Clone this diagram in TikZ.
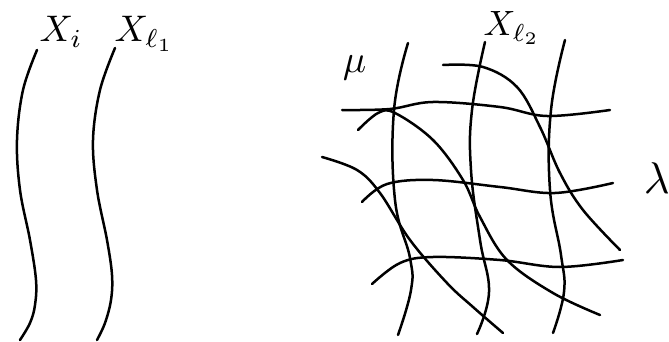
\documentclass[tikz,border=0pt]{standalone}
\begin{document}
\begin{tikzpicture}[x=1pt,y=-1pt,
  curve/.style={line width=2.5pt,line cap=round,black},
  lab/.style={inner sep=0pt,scale=3.7}]
\useasboundingbox[fill=white] (0,0) rectangle (669,342);
% left two curves
\draw[curve] plot[smooth,tension=0.6] coordinates {(37,50) (23,90) (17,140) (20,190) (30,240) (36,280) (35,305) (30,323) (20,340)};
\draw[curve] plot[smooth,tension=0.6] coordinates {(115,48) (100,90) (93,140) (97,190) (107,240) (112,275) (111,300) (105,323) (97,340)};
% vertical family
\draw[curve] plot[smooth,tension=0.7] coordinates {(408,43) (394,110) (395,200) (410,258) (411,290) (398,335)};
\draw[curve] plot[smooth,tension=0.7] coordinates {(485,42) (472,110) (471,170) (480,240) (489,292) (477,334)};
\draw[curve] plot[smooth,tension=0.7] coordinates {(565,40) (551,110) (550,190) (561,255) (564,292) (553,333)};
% lambda family
\draw[curve] plot[smooth,tension=0.6] coordinates {(342,110) (390,109) (433,102) (500,107) (547,116) (610,110)};
\draw[curve] plot[smooth,tension=0.6] coordinates {(362,202) (387,184) (433,180) (500,187) (555,193) (613,183)};
\draw[curve] plot[smooth,tension=0.6] coordinates {(372,284) (400,263) (433,257) (500,260) (560,267) (623,260)};
% mu family
\draw[curve] plot[smooth,tension=0.6] coordinates {(358,130) (378,113) (395,113) (433,140) (463,180) (480,217) (507,260) (553,293) (600,315)};
\draw[curve] plot[smooth,tension=0.6] coordinates {(443,65) (483,67) (517,87) (540,127) (560,173) (583,210) (620,250)};
\draw[curve] plot[smooth,tension=0.6] coordinates {(322,157) (357,170) (380,193) (410,240) (447,283) (473,307) (503,333)};
% labels
\node[lab,anchor=base west] (xi) at (39,42) {$X_i$};
\node[lab,anchor=base west] (xl1) at (114,42) {$X_{\ell_1}$};
\node[lab,anchor=base west,scale=0.95] (xl2) at (483,36) {$X_{\ell_2}$};
\node[lab,anchor=base west,scale=1.05] (mu) at (342,73) {$\mu$};
\node[lab,anchor=base west,scale=1.2] (la) at (643,193) {$\lambda$};
\end{tikzpicture}
\end{document}
